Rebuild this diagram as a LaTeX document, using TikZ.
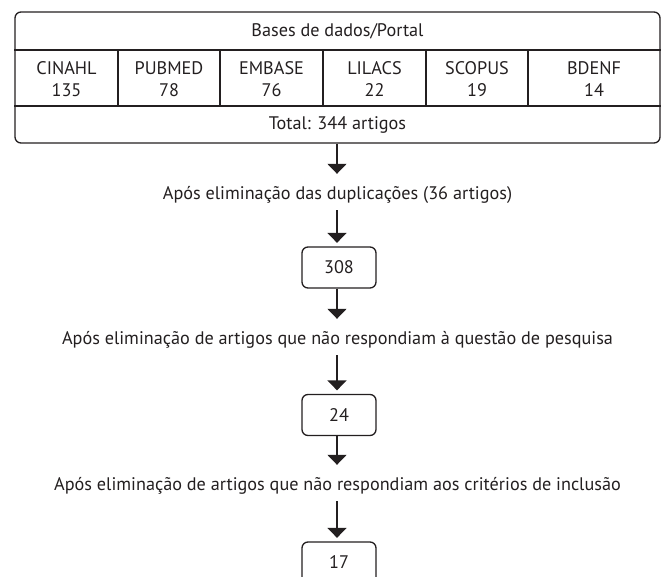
\documentclass[tikz,border=0pt]{standalone}
\usepackage{fontspec}
\setmainfont{PT Sans}
\usetikzlibrary{arrows.meta}
\definecolor{ink}{HTML}{231F20}
\newlength\refwid
\AtBeginDocument{\settowidth\refwid{\fontsize{10pt}{12pt}\selectfont Após eliminação de artigos que não respondiam à questão de pesquisa}}
\tikzset{
  lines/.style={draw=ink, line width=1.3pt},
  bigbox/.style={lines, rounded corners=6pt, minimum width=645pt, minimum height=131pt, inner sep=0pt},
  smallbox/.style={lines, rounded corners=6pt, minimum width=74pt, minimum height=41pt, inner sep=0pt, text=ink},
  celltext/.style={text=ink, align=center, inner sep=0pt},
  steptext/.style={text=ink, inner sep=0pt, text height=26pt, text depth=10pt, anchor=base},
  arr/.style={draw=ink, line width=1.6pt, -{Triangle[width=19pt,length=10pt]}},
  intobox/.style={arr, shorten >=3.5pt},
}
\begin{document}
\begin{tikzpicture}[x=1pt,y=-1pt]
\pgfmathsetmacro\fsz{5510/\refwid}
\pgfmathsetmacro\lsk{1.18*\fsz}
\tikzset{every node/.style={font=\fontsize{\fsz pt}{\lsk pt}\selectfont}}
\useasboundingbox (0,0) rectangle (662,577);
% main box
\node[bigbox] (db) at (337.5,77.5) {};
\draw[lines, line width=1.2pt] (db.west |- 0,50) -- (db.east |- 0,50);
\draw[lines, line width=1.2pt] (db.west |- 0,106) -- (db.east |- 0,106);
\foreach \x in {118,220,323,426,528}
  \draw[lines, line width=1.2pt] (\x,50) -- (\x,106);
\node[celltext] (hdr) at (337.5,31) {Bases de dados/Portal};
\node[celltext] (c1) at (66.5,79) {CINAHL\\135};
\node[celltext] (c2) at (169,79) {PUBMED\\78};
\node[celltext] (c3) at (271.5,79) {EMBASE\\76};
\node[celltext] (c4) at (374.5,79) {LILACS\\22};
\node[celltext] (c5) at (477,79) {SCOPUS\\19};
\node[celltext] (c6) at (594,79) {BDENF\\14};
\node[celltext] (tot) at (337.5,125) {Total: 344 artigos};
% steps
\node[steptext] (t1) at (337.5,200) {Após eliminação das duplicações (36 artigos)};
\node[smallbox] (b1) at (339,267.5) {308};
\node[steptext] (t2) at (337.5,345) {Após eliminação de artigos que não respondiam à questão de pesquisa};
\node[smallbox] (b2) at (339,415) {24};
\node[steptext] (t3) at (337.5,491) {Após eliminação de artigos que não respondiam aos critérios de inclusão};
\node[smallbox] (b3) at (339,562.5) {17};
% connectors
\draw[arr] (db.south -| 337,0) -- (t1.north -| 337,0);
\draw[intobox] (t1.south -| 337,0) -- (b1.north -| 337,0);
\draw[arr] (b1.south -| 337,0) -- (t2.north -| 337,0);
\draw[intobox] (t2.south -| 337,0) -- (b2.north -| 337,0);
\draw[arr] (b2.south -| 337,0) -- (t3.north -| 337,0);
\draw[intobox] (t3.south -| 337,0) -- (b3.north -| 337,0);
\end{tikzpicture}
\end{document}
